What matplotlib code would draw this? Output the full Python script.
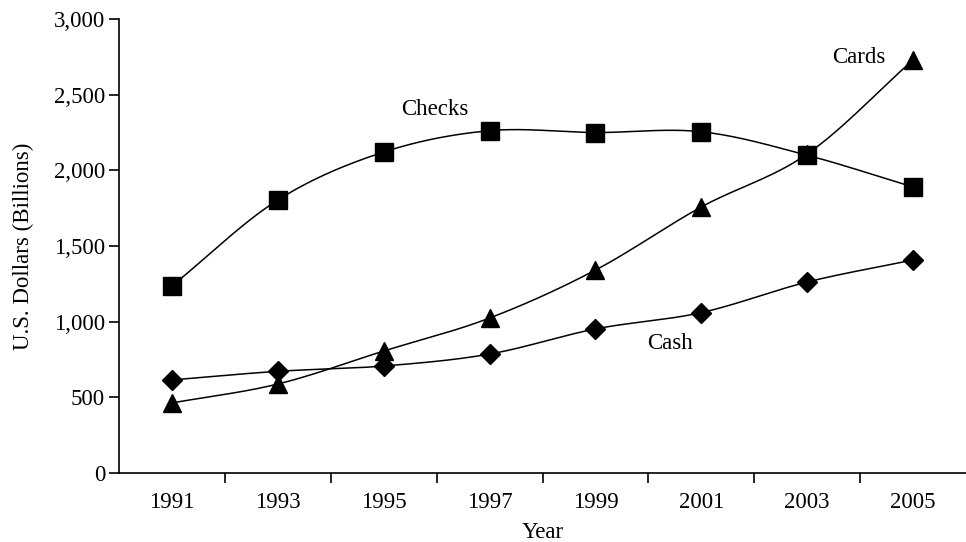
import numpy as np
import matplotlib
matplotlib.use("Agg")
import matplotlib.pyplot as plt

years = ["1991", "1993", "1995", "1997", "1999", "2001", "2003", "2005"]
checks = [1236, 1804, 2121, 2262, 2250, 2255, 2100, 1890]
cards = [463, 588, 806, 1024, 1341, 1758, 2108, 2730]
cash = [615, 672, 707, 786, 952, 1060, 1262, 1408]

plt.rcParams['font.family'] = ['Liberation Serif', 'DejaVu Serif']
FS = 16.5

def smooth(y, n=30):
    x = np.arange(len(y), dtype=float)
    y = np.asarray(y, dtype=float)
    px = np.concatenate([[2 * x[0] - x[1]], x, [2 * x[-1] - x[-2]]])
    py = np.concatenate([[2 * y[0] - y[1]], y, [2 * y[-1] - y[-2]]])
    xs, ys = [], []
    for i in range(1, len(px) - 2):
        t = np.linspace(0, 1, n, endpoint=(i == len(px) - 3))
        for arr, out in ((px, xs), (py, ys)):
            p0, p1, p2, p3 = arr[i - 1], arr[i], arr[i + 1], arr[i + 2]
            out.append(0.5 * ((2 * p1) + (-p0 + p2) * t + (2 * p0 - 5 * p1 + 4 * p2 - p3) * t ** 2
                              + (-p0 + 3 * p1 - 3 * p2 + p3) * t ** 3))
    return np.concatenate(xs), np.concatenate(ys)

fig = plt.figure(figsize=(9.66, 5.42), dpi=100)
ax = fig.add_axes([0.1232, 0.1273, 0.8768, 0.8376])

x = np.arange(len(years))
for data, mk, ms in ((checks, 's', 13), (cards, '^', 13), (cash, 'D', 10)):
    sx, sy = smooth(data)
    ax.plot(sx, sy, color='black', lw=1.1, zorder=2)
    ax.plot(x, data, linestyle='none', marker=mk, ms=ms, color='black', zorder=3)

ax.set_xlim(-0.5, 7.5)
ax.set_ylim(0, 3000)
ax.set_xticks(x)
ax.set_xticklabels(years)
ax.set_xticks(np.arange(0.5, 7.0, 1.0), minor=True)
ax.tick_params(axis='x', which='major', length=0, pad=14, labelsize=FS)
ax.tick_params(axis='x', which='minor', length=7, width=1.2, direction='out')
ax.set_yticks(np.arange(0, 3001, 500))
ax.set_yticklabels([f"{v:,}" for v in range(0, 3001, 500)])
ax.tick_params(axis='y', length=7, width=1.2, direction='out', labelsize=FS, pad=3)

for s in ('top', 'right'):
    ax.spines[s].set_visible(False)
for s in ('left', 'bottom'):
    ax.spines[s].set_linewidth(1.2)

ax.set_xlabel("Year", fontsize=FS, labelpad=6)
ax.set_ylabel("U.S. Dollars (Billions)", fontsize=FS, labelpad=14)

ax.text(2.48, 2400, "Checks", fontsize=FS, ha='center', va='center')
ax.text(6.74, 2745, "Cards", fontsize=FS, ha='right', va='center')
ax.text(4.70, 855, "Cash", fontsize=FS, ha='center', va='center')

fig.savefig("out.png", dpi=100)
